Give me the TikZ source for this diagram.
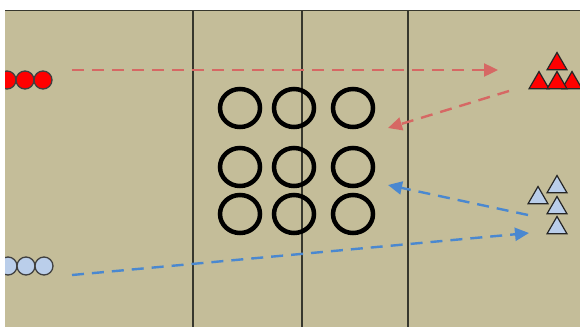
\documentclass[tikz,border=0pt]{standalone}
\usetikzlibrary{shapes.geometric,arrows.meta}
\definecolor{field}{RGB}{196,189,153}
\definecolor{fline}{RGB}{55,55,45}
\definecolor{redarr}{RGB}{214,104,100}
\definecolor{bluearr}{RGB}{74,136,208}
\definecolor{lblue}{RGB}{186,206,234}
\definecolor{pred}{RGB}{255,0,0}
\tikzset{
  puck/.style={circle,draw=black!75,line width=1.3pt,minimum size=18pt,inner sep=0pt},
  redpuck/.style={puck,fill=pred},
  bluepuck/.style={puck,fill=lblue},
  tri/.style={regular polygon,regular polygon sides=3,draw=black!85,line width=1.2pt,minimum size=23pt,inner sep=0pt,outer sep=0pt},
  redtri/.style={tri,fill=pred},
  bluetri/.style={tri,fill=lblue},
  ring/.style={ellipse,draw=black,line width=4.5pt,minimum width=40pt,minimum height=38pt,inner sep=0pt},
  move/.style={dashed,dash pattern=on 12pt off 8pt,line width=2.4pt,-{Triangle[length=14pt,width=13pt]}},
  redmove/.style={move,draw=redarr},
  bluemove/.style={move,draw=bluearr},
  divider/.style={draw=fline,line width=2.2pt}
}
\begin{document}
\begin{tikzpicture}[x=1pt,y=-1pt]
\useasboundingbox (0,0) rectangle (580,327);
\fill[white] (0,0) rectangle (580,327);
\begin{scope}
\clip (5,10) rectangle (580,327);
\fill[field] (5,10) rectangle (580,327);
% dividers
\coordinate (t1) at (193,10); \coordinate (b1) at (193,327);
\coordinate (t2) at (302,10); \coordinate (b2) at (302,327);
\coordinate (t3) at (408,10); \coordinate (b3) at (408,327);
\coordinate (tl) at (5,10); \coordinate (tr) at (580,10);
\draw[divider] (t1) -- (b1);
\draw[divider] (t2) -- (b2);
\draw[divider] (t3) -- (b3);
\draw[divider,line width=2.5pt] (tl) -- (tr);
% rings
\node[ring] (r11) at (240,108) {};
\node[ring] (r12) at (294,108) {};
\node[ring] (r13) at (353,108) {};
\node[ring] (r21) at (240,167) {};
\node[ring] (r22) at (294,167) {};
\node[ring] (r23) at (353,167) {};
\node[ring] (r31) at (240,214) {};
\node[ring] (r32) at (294,214) {};
\node[ring] (r33) at (353,214) {};
% left pucks
\node[redpuck] (rp1) at (7,80) {};
\node[redpuck] (rp2) at (25,80) {};
\node[redpuck] (rp3) at (43,80) {};
\node[bluepuck] (bp1) at (8,266) {};
\node[bluepuck] (bp2) at (26,266) {};
\node[bluepuck] (bp3) at (44,266) {};
% red triangles
\node[redtri] (rt1) at (557,64) {};
\node[redtri] (rt2) at (539,83) {};
\node[redtri] (rt4) at (572,83) {};
\node[redtri] (rt3) at (557,83) {};
% blue triangles
\node[bluetri] (bt1) at (538,198) {};
\node[bluetri] (bt2) at (557,187) {};
\node[bluetri] (bt3) at (557,208) {};
\node[bluetri] (bt4) at (557,228) {};
% arrows
\coordinate (ra1s) at (72,70);  \coordinate (ra1e) at (498,70);
\coordinate (ra2s) at (509,91); \coordinate (ra2e) at (388,128);
\coordinate (ba1s) at (528,215); \coordinate (ba1e) at (388,185);
\coordinate (ba2s) at (72,275); \coordinate (ba2e) at (529,233);
\draw[redmove] (ra1s) -- (ra1e);
\draw[redmove] (ra2s) -- (ra2e);
\draw[bluemove] (ba1s) -- (ba1e);
\draw[bluemove] (ba2s) -- (ba2e);
\end{scope}
\end{tikzpicture}
\end{document}
